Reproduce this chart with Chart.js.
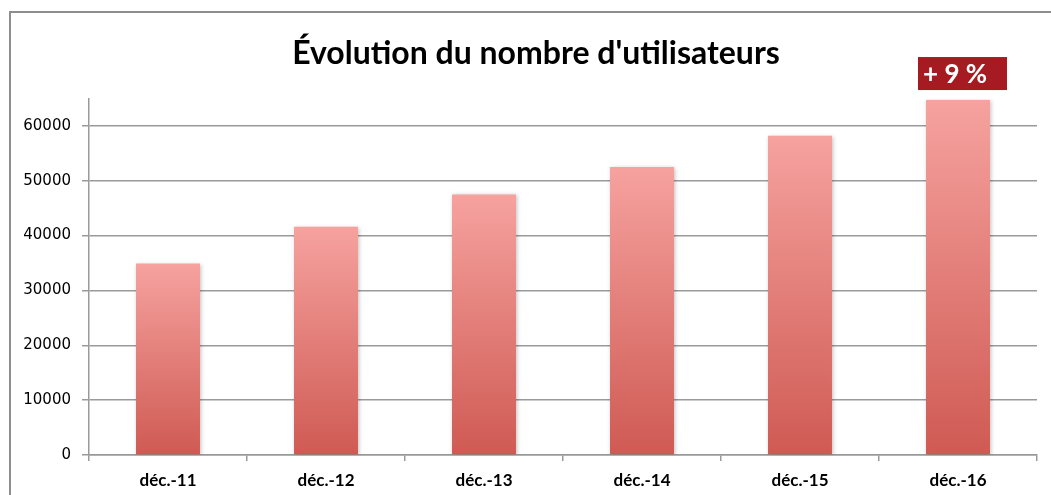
<!DOCTYPE html>
<html>
<head>
<meta charset="utf-8">
<script src="https://cdn.jsdelivr.net/npm/chart.js@4"></script>
<style>
	html, body { margin: 0; padding: 0; background: #fff; overflow: hidden; }
	#frame { position: absolute; left: 9px; top: 11px; width: 1100px; height: 600px; border-left: 2px solid #8e8e8e; border-top: 2px solid #8e8e8e; }
	#wrap { position: absolute; left: 0; top: 0; width: 1051px; height: 495px; }
</style>
</head>
<body>
<div id="frame"></div>
<div id="wrap"><canvas id="users-chart" width="1051" height="495"></canvas></div>
<script>
const categories = ["déc.-11", "déc.-12", "déc.-13", "déc.-14", "déc.-15", "déc.-16"];
const users = [34900, 41600, 47500, 52500, 58200, 64700];
const yTicks = [0, 10000, 20000, 30000, 40000, 50000, 60000];
const growthLabel = "+ 9 %";

// Excel-like bar shadow
const shadowPlugin = {
	id: "shadow",
	beforeDatasetsDraw(chart) {
		const ctx = chart.ctx;
		ctx.save();
		ctx.shadowColor = "rgba(0,0,0,0.25)";
		ctx.shadowBlur = 4;
		ctx.shadowOffsetX = 1;
		ctx.shadowOffsetY = 1;
	},
	afterDatasetsDraw(chart) {
		chart.ctx.restore();
	}
};

// title sits a bit right of the canvas centre in the original
const titleShift = {
	id: "titleShift",
	afterLayout(chart) {
		if (chart.titleBlock) chart.titleBlock.left += 21;
	}
};

// red badge over the last bar
const badgePlugin = {
	id: "badge",
	afterDraw(chart) {
		const meta = chart.getDatasetMeta(0);
		const bar = meta.data[meta.data.length - 1];
		const ctx = chart.ctx;
		const w = 89, h = 33;
		const left = bar.x - 40;
		const top = bar.y - 10 - h;
		ctx.save();
		ctx.fillStyle = "#a51b21";
		ctx.fillRect(left, top, w, h);
		ctx.fillStyle = "#fff";
		ctx.font = "bold 26px Lato";
		ctx.textBaseline = "middle";
		ctx.textAlign = "left";
		ctx.fillText(growthLabel, left + 5, top + h / 2 + 1);
		ctx.restore();
	}
};

const chart = new Chart(document.getElementById("users-chart"), {
	type: "bar",
	data: {
		labels: categories,
		datasets: [{
			data: users,
			backgroundColor: function (c) {
				const ch = c.chart;
				const y = ch.scales.y;
				if (!ch.chartArea || !y || c.raw === undefined) return "#e57d78";
				const top = y.getPixelForValue(c.raw);
				const bottom = y.getPixelForValue(0);
				const g = ch.ctx.createLinearGradient(0, top, 0, bottom);
				g.addColorStop(0, "#f6a29f");
				g.addColorStop(1, "#cf5a53");
				return g;
			},
			borderWidth: 0,
			barPercentage: 0.405,
			categoryPercentage: 1
		}]
	},
	options: {
		responsive: false,
		animation: false,
		devicePixelRatio: 1,
		layout: { padding: { left: 14, right: 14, top: 0, bottom: 0 } },
		plugins: {
			legend: { display: false },
			tooltip: { enabled: false },
			title: {
				display: true,
				text: "Évolution du nombre d'utilisateurs",
				color: "#000",
				font: { family: "Lato", size: 32, weight: "bold", lineHeight: 1.2 },
				padding: { top: 34, bottom: 26 }
			}
		},
		scales: {
			x: {
				grid: { offset: true, drawOnChartArea: false, color: "#9a9a9a", lineWidth: 1.5, tickLength: 6 },
				border: { color: "#9a9a9a", width: 1.5 },
				ticks: { color: "#000", maxRotation: 0, font: { family: "Lato", size: 17, weight: "bold" }, padding: 9 },
				afterFit(scale) { scale.height = 40; }
			},
			y: {
				min: 0,
				max: 65000,
				grid: { color: "#9a9a9a", lineWidth: 1.5, tickLength: 7 },
				border: { color: "#9a9a9a", width: 1.5 },
				ticks: { color: "#000", font: { family: "DejaVu Sans", size: 15 }, padding: 11,
					callback: v => String(v) },
				afterBuildTicks(scale) { scale.ticks = yTicks.map(v => ({ value: v })); },
				afterFit(scale) { scale.width = 75; }
			}
		}
	},
	plugins: [shadowPlugin, titleShift, badgePlugin]
});
</script>
</body>
</html>
